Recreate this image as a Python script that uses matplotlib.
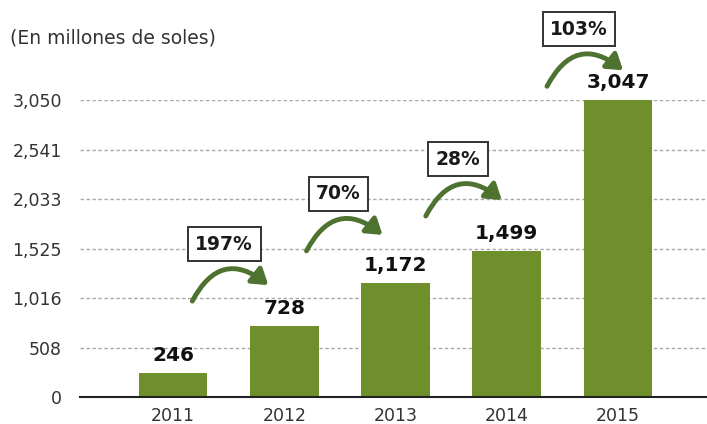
import matplotlib.pyplot as plt
from matplotlib.transforms import offset_copy

# Datos
YEARS = ["2011", "2012", "2013", "2014", "2015"]
VALUES = [246, 728, 1172, 1499, 3047]
VALUE_LABELS = ["246", "728", "1,172", "1,499", "3,047"]
GROWTH_LABELS = ["197%", "70%", "28%", "103%"]
Y_TICKS = [0, 508, 1016, 1525, 2033, 2541, 3050]
Y_TICK_LABELS = ["0", "508", "1,016", "1,525", "2,033", "2,541", "3,050"]

BAR_COLOR = "#6e8f2b"
ARROW_COLOR = "#4e7330"
TEXT_COLOR = "#333333"

# Ajustes de las flechas (pixeles relativos a la barra siguiente)
ARROW_DX = [-16, -13, -5, 5]
ARROW_LIFT = [41, 48, 51, 30]

fig = plt.figure(figsize=(7.07, 4.24), dpi=100)
ax = fig.add_axes([80 / 707, 27 / 424, 627 / 707, 297 / 424])

x = list(range(len(YEARS)))
ax.bar(x, VALUES, width=0.616, color=BAR_COLOR, zorder=3)

ax.set_xlim(-0.836, 4.8)
ax.set_ylim(0, 3050)
ax.set_yticks(Y_TICKS)
ax.set_yticklabels(Y_TICK_LABELS)
ax.set_xticks(x)
ax.set_xticklabels(YEARS)
ax.tick_params(axis="both", length=0, labelsize=12.5, colors=TEXT_COLOR)
ax.tick_params(axis="y", pad=13)
ax.tick_params(axis="x", pad=7)

for s in ["top", "right", "left"]:
    ax.spines[s].set_visible(False)
ax.spines["bottom"].set_color("#222222")
ax.spines["bottom"].set_linewidth(1.5)
ax.spines["bottom"].set_zorder(4)

for t in Y_TICKS[1:]:
    ax.axhline(t, color="#a8a8a8", lw=1, ls=(0, (2.5, 1.8)), zorder=1)

# Etiquetas de valor sobre las barras
for xi, v, lab in zip(x, VALUES, VALUE_LABELS):
    ax.annotate(lab, xy=(xi, v), xytext=(0, 8), textcoords="offset pixels",
                ha="center", va="bottom", fontsize=14.5, fontweight="bold",
                color="#111111")

# Flechas curvas con el crecimiento anual
for i, lab in enumerate(GROWTH_LABELS):
    nx, nv = x[i + 1], VALUES[i + 1]
    dx, lift = ARROW_DX[i], ARROW_LIFT[i]
    tip_tr = offset_copy(ax.transData, fig=fig, x=dx, y=lift, units="dots")
    tail_tr = offset_copy(ax.transData, fig=fig, x=dx - 76, y=lift - 16, units="dots")
    box_tr = offset_copy(ax.transData, fig=fig, x=dx - 44, y=lift + 41, units="dots")
    ax.annotate("", xy=(nx, nv), xycoords=tip_tr,
                xytext=(nx, nv), textcoords=tail_tr,
                arrowprops=dict(arrowstyle="-|>,head_length=0.9,head_width=0.6",
                                connectionstyle="arc3,rad=-0.6",
                                color=ARROW_COLOR, lw=3.5,
                                shrinkA=0, shrinkB=0),
                annotation_clip=False)
    ax.text(nx, nv, lab, transform=box_tr, ha="center", va="center",
            fontsize=13.5, fontweight="bold", color="#1a1a1a",
            bbox=dict(boxstyle="square,pad=0.4", fc="white", ec="#333333", lw=1.4),
            clip_on=False, zorder=5)

fig.text(10 / 707, 1 - 38 / 424, "(En millones de soles)", ha="left", va="center",
         fontsize=13.5, color=TEXT_COLOR)

fig.savefig("out.png", dpi=100)
